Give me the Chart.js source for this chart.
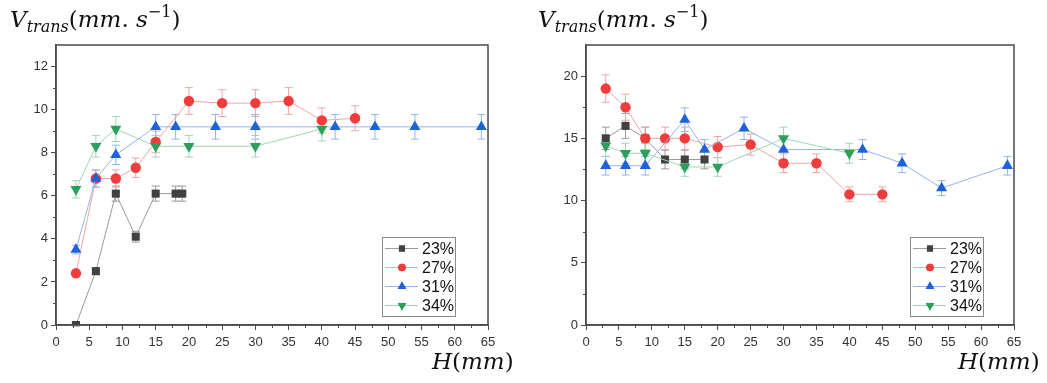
<!DOCTYPE html>
<html>
<head>
<meta charset="utf-8">
<script src="https://cdn.jsdelivr.net/npm/chart.js"></script>
<style>
  body { margin: 0; background: #fff; width: 1047px; height: 383px; overflow: hidden; position: relative; }
  .panel { position: absolute; top: 0; height: 383px; }
  .math { position: absolute; font-family: "DejaVu Serif", serif; font-size: 23px; color: #111; white-space: nowrap; }
  .math sub { font-size: 16px; vertical-align: -5px; }
  .math sup { font-size: 16px; vertical-align: 10px; }
</style>
</head>
<body>
<div class="panel" style="left:0;width:523px"><canvas id="left"></canvas></div>
<div class="panel" style="left:523px;width:524px"><canvas id="right"></canvas></div>
<div class="math" style="left:10px;top:2px"><i>V</i><sub><i>trans</i></sub>(<i>mm</i>. <i>s</i><sup>−1</sup>)</div>
<div class="math" style="left:538px;top:2px"><i>V</i><sub><i>trans</i></sub>(<i>mm</i>. <i>s</i><sup>−1</sup>)</div>
<div class="math" style="left:432px;top:348px"><i>H</i>(<i>mm</i>)</div>
<div class="math" style="left:958px;top:348px"><i>H</i>(<i>mm</i>)</div>
<script>
// ------------ DATA ------------

const seriesNames = ["23%", "27%", "31%", "34%"];

// left panel
const h23L = [3, 6, 9, 12, 15, 18, 19];
const v23L = [0, 2.5, 6.1, 4.1, 6.1, 6.1, 6.1];
const e23L = [0.05, 0.15, 0.35, 0.25, 0.35, 0.35, 0.35];

const h27L = [3, 6, 9, 12, 15, 20, 25, 30, 35, 40, 45];
const v27L = [2.4, 6.8, 6.8, 7.3, 8.5, 10.4, 10.3, 10.3, 10.4, 9.5, 9.6];
const e27L = [0.15, 0.4, 0.4, 0.45, 0.5, 0.62, 0.62, 0.62, 0.62, 0.58, 0.58];

const h31L = [3, 6, 9, 15, 18, 24, 30, 42, 48, 54, 64];
const v31L = [3.5, 6.8, 7.9, 9.2, 9.2, 9.2, 9.2, 9.2, 9.2, 9.2, 9.2];
const e31L = [0.2, 0.4, 0.45, 0.57, 0.57, 0.57, 0.57, 0.57, 0.57, 0.57, 0.57];

const h34L = [3, 6, 9, 15, 20, 30, 40];
const v34L = [6.3, 8.3, 9.1, 8.3, 8.3, 8.3, 9.1];
const e34L = [0.4, 0.5, 0.58, 0.5, 0.5, 0.5, 0.55];

// right panel
const h23R = [3, 6, 9, 12, 15, 18];
const v23R = [15, 16, 15, 13.3, 13.3, 13.3];
const e23R = [0.9, 1.0, 0.9, 0.75, 0.75, 0.75];

const h27R = [3, 6, 9, 12, 15, 20, 25, 30, 35, 40, 45];
const v27R = [19, 17.5, 15, 15, 15, 14.3, 14.5, 13, 13, 10.5, 10.5];
const e27R = [1.1, 1.05, 0.9, 0.9, 0.9, 0.85, 0.85, 0.75, 0.75, 0.6, 0.6];

const h31R = [3, 6, 9, 15, 18, 24, 30, 42, 48, 54, 64];
const v31R = [12.8, 12.8, 12.8, 16.5, 14.1, 15.8, 14.1, 14.1, 13.0, 11.0, 12.8];
const e31R = [0.75, 0.75, 0.75, 0.95, 0.8, 0.9, 0.8, 0.8, 0.75, 0.6, 0.75];

const h34R = [3, 6, 9, 15, 20, 30, 40];
const v34R = [14.4, 13.8, 13.8, 12.7, 12.7, 15.0, 13.8];
const e34R = [0.85, 0.8, 0.8, 0.75, 0.75, 0.9, 0.8];

// tick labels
const xTicks = [0, 5, 10, 15, 20, 25, 30, 35, 40, 45, 50, 55, 60, 65];
const yTicksLeft = [0, 2, 4, 6, 8, 10, 12];
const yTicksRight = [0, 5, 10, 15, 20];


// ------------ STYLE ------------

const markColors = ["#414141", "#f23b3b", "#1c62d8", "#2aa05c"];
const lineColors = ["#9a9a9a", "#f3a3a3", "#93b4ea", "#9fd6b3"];
const pointStyles = ["rect", "circle", "triangle", "triangle"];
const pointRadius = [5.7, 5.2, 6.4, 6.4];
const pointRotation = [0, 0, 0, 180];


function makeDatasets(hs, vs, es) {
    return hs.map((h, i) => ({
        label: seriesNames[i],
        data: h.map((x, j) => ({ x: x, y: vs[i][j] })),
        errors: es[i],
        borderColor: lineColors[i],
        borderWidth: 1,
        backgroundColor: markColors[i],
        pointBackgroundColor: markColors[i],
        pointBorderColor: markColors[i],
        pointBorderWidth: 0,
        pointStyle: pointStyles[i],
        pointRadius: pointRadius[i],
        pointRotation: pointRotation[i],
        tension: 0,
        order: 4 - i,
    }));
}


// ------------ PLUGINS ------------

// error bars, drawn under the lines and markers
const errorBars = {
    id: "errorBars",
    beforeDatasetsDraw(chart) {
        const ctx = chart.ctx;
        const xs = chart.scales.x, ys = chart.scales.y;
        ctx.save();
        ctx.lineWidth = 1;
        chart.data.datasets.forEach((ds, i) => {
            ctx.strokeStyle = lineColors[i];
            ds.data.forEach((p, j) => {
                const e = ds.errors[j];
                const px = xs.getPixelForValue(p.x);
                const top = ys.getPixelForValue(p.y + e);
                const bot = ys.getPixelForValue(p.y - e);
                ctx.beginPath();
                ctx.moveTo(px, top); ctx.lineTo(px, bot);
                ctx.moveTo(px - 4, top); ctx.lineTo(px + 4, top);
                ctx.moveTo(px - 4, bot); ctx.lineTo(px + 4, bot);
                ctx.stroke();
            });
        });
        ctx.restore();
    },
};

// frame + minor ticks + legend box
const frameAndLegend = {
    id: "frameAndLegend",
    afterDraw(chart, args, opts) {
        const ctx = chart.ctx;
        const a = chart.chartArea;
        const xs = chart.scales.x, ys = chart.scales.y;
        ctx.save();
        ctx.strokeStyle = "#4a4a4a";
        ctx.lineWidth = 1.5;
        ctx.strokeRect(a.left, a.top, a.right - a.left, a.bottom - a.top);

        // minor ticks
        ctx.lineWidth = 1;
        ctx.beginPath();
        for (let v = 2.5; v < 65; v += 5) {
            const px = Math.round(xs.getPixelForValue(v)) + 0.5;
            ctx.moveTo(px, a.bottom); ctx.lineTo(px, a.bottom + 3);
        }
        for (let v = opts.yMinor; v < ys.max; v += opts.yMinor * 2) {
            const py = Math.round(ys.getPixelForValue(v)) + 0.5;
            ctx.moveTo(a.left, py); ctx.lineTo(a.left - 3, py);
        }
        ctx.stroke();

        // legend
        const bw = 73, bh = 79;
        const bx = a.right - opts.legendRight - bw;
        const by = a.bottom - 9 - bh;
        ctx.fillStyle = "#fff";
        ctx.fillRect(bx, by, bw, bh);
        ctx.strokeStyle = "#8a8a8a";
        ctx.lineWidth = 1;
        ctx.strokeRect(bx + 0.5, by + 0.5, bw, bh);
        ctx.font = "16px 'Liberation Sans', Arial, sans-serif";
        ctx.textBaseline = "middle";
        seriesNames.forEach((name, i) => {
            const ry = by + 11.5 + i * 19;
            ctx.strokeStyle = lineColors[i];
            ctx.lineWidth = 1.2;
            ctx.beginPath();
            ctx.moveTo(bx + 3, ry); ctx.lineTo(bx + 36, ry);
            ctx.stroke();
            ctx.fillStyle = markColors[i];
            Chart.helpers.drawPoint(ctx, {
                pointStyle: pointStyles[i],
                radius: pointRadius[i] - 1.4,
                rotation: pointRotation[i],
                borderWidth: 0,
            }, bx + 20, ry);
            ctx.fill();
            ctx.fillStyle = "#111";
            ctx.fillText(name, bx + 40, ry + 1);
        });
        ctx.restore();
    },
};


// ------------ CREATE CHART ------------

function makeChart(el, datasets, yMax, yTicks, padding, extra) {
    return new Chart(el, {
        type: "line",
        data: { datasets: datasets },
        plugins: [errorBars, frameAndLegend],
        options: {
            responsive: true,
            maintainAspectRatio: false,
            animation: false,
            layout: { padding: padding },
            plugins: {
                legend: { display: false },
                tooltip: { enabled: false },
                frameAndLegend: extra,
            },
            scales: {
                x: {
                    type: "linear",
                    min: 0,
                    max: 65,
                    afterBuildTicks: (s) => { s.ticks = xTicks.map(v => ({ value: v })); },
                    afterFit: (s) => { s.height = 40; },
                    grid: { display: true, drawOnChartArea: false, drawTicks: true, tickLength: 5, color: "#4a4a4a" },
                    border: { display: true, color: "#4a4a4a", width: 1.5 },
                    ticks: { color: "#333", font: { size: 13, family: "'Liberation Sans', Arial, sans-serif" }, padding: 5, maxRotation: 0, autoSkip: false },
                },
                y: {
                    type: "linear",
                    min: 0,
                    max: yMax,
                    afterBuildTicks: (s) => { s.ticks = yTicks.map(v => ({ value: v })); },
                    afterFit: (s) => { s.width = 40; },
                    grid: { display: true, drawOnChartArea: false, drawTicks: true, tickLength: 5, color: "#4a4a4a" },
                    border: { display: true, color: "#4a4a4a", width: 1.5 },
                    ticks: { color: "#333", font: { size: 13, family: "'Liberation Sans', Arial, sans-serif" }, padding: 3 },
                },
            },
        },
    });
}

makeChart(
    document.getElementById("left"),
    makeDatasets([h23L, h27L, h31L, h34L], [v23L, v27L, v31L, v34L], [e23L, e27L, e31L, e34L]),
    13, yTicksLeft,
    { left: 16, right: 35, top: 45, bottom: 18 },
    { yMinor: 1, legendRight: 33 }
);

makeChart(
    document.getElementById("right"),
    makeDatasets([h23R, h27R, h31R, h34R], [v23R, v27R, v31R, v34R], [e23R, e27R, e31R, e34R]),
    22.5, yTicksRight,
    { left: 23, right: 33, top: 45, bottom: 18 },
    { yMinor: 2.5, legendRight: 31 }
);
</script>
</body>
</html>
